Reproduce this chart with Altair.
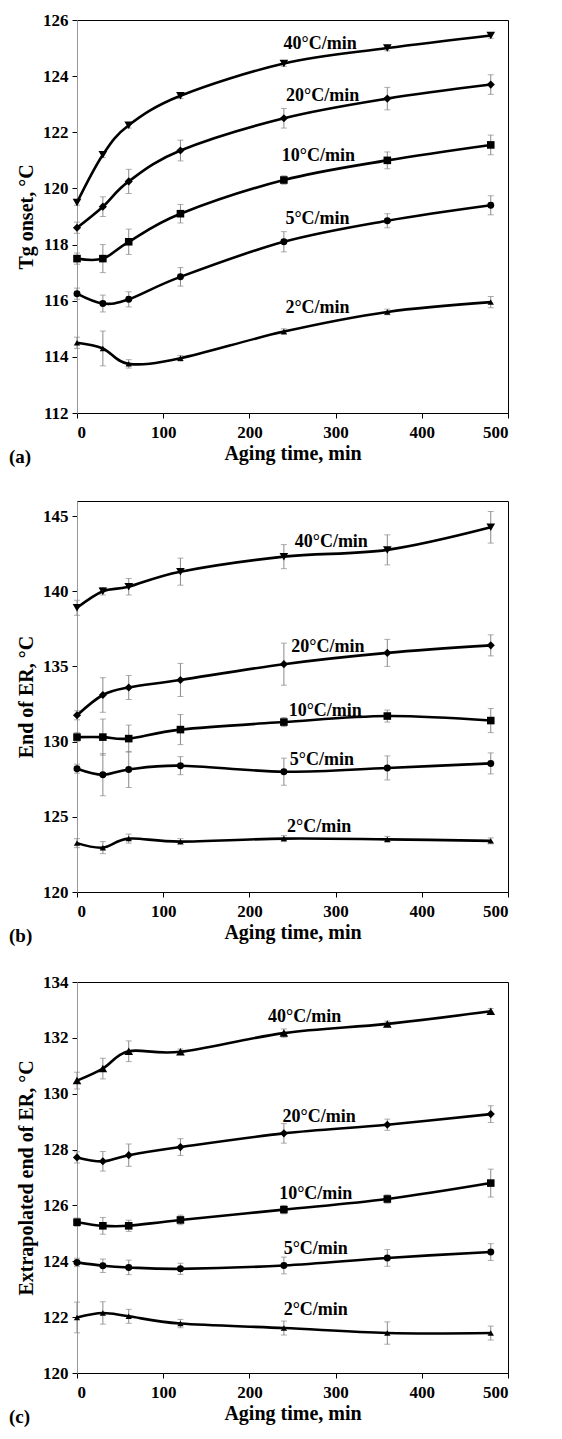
import altair as alt
import pandas as pd

TIME = [0, 30, 60, 120, 240, 360, 480]
RATES = ["40", "20", "10", "5", "2"]
RATE_LABELS = ["40°C/min", "20°C/min", "10°C/min", "5°C/min", "2°C/min"]

# ---- panel (a): Tg onset ----
A_VALUES = {
    "40": [119.5, 121.2, 122.25, 123.3, 124.45, 125.0, 125.45],
    "20": [118.6, 119.35, 120.25, 121.35, 122.5, 123.2, 123.7],
    "10": [117.5, 117.5, 118.1, 119.1, 120.3, 121.0, 121.55],
    "5": [116.25, 115.9, 116.05, 116.85, 118.1, 118.85, 119.4],
    "2": [114.5, 114.3, 113.75, 113.95, 114.9, 115.6, 115.95],
}
A_ERRORS = {
    "40": [0.1, 0.1, 0.1, 0.1, 0.1, 0.1, 0.1],
    "20": [0.2, 0.35, 0.43, 0.37, 0.35, 0.4, 0.35],
    "10": [0.2, 0.5, 0.45, 0.33, 0.15, 0.3, 0.35],
    "5": [0.2, 0.3, 0.27, 0.33, 0.36, 0.25, 0.34],
    "2": [0.2, 0.62, 0.15, 0.1, 0.1, 0.1, 0.2],
}
A_LABEL_T = [282, 285, 280, 279, 279]
A_LABEL_V = [125.15, 123.3, 121.15, 118.9, 115.75]

# ---- panel (b): End of ER ----
B_VALUES = {
    "40": [138.9, 140.0, 140.3, 141.3, 142.3, 142.75, 144.25],
    "20": [131.75, 133.1, 133.6, 134.1, 135.15, 135.9, 136.4],
    "10": [130.3, 130.3, 130.2, 130.8, 131.3, 131.7, 131.4],
    "5": [128.2, 127.8, 128.15, 128.4, 128.0, 128.25, 128.55],
    "2": [123.25, 122.95, 123.55, 123.35, 123.55, 123.5, 123.4],
}
B_ERRORS = {
    "40": [0.5, 0.25, 0.55, 0.9, 0.8, 1.0, 1.05],
    "20": [0.3, 1.15, 0.8, 1.1, 1.4, 0.9, 0.7],
    "10": [0.3, 1.2, 0.9, 1.0, 0.3, 0.4, 0.8],
    "5": [0.3, 1.4, 1.2, 0.6, 0.9, 0.8, 0.7],
    "2": [0.3, 0.4, 0.3, 0.2, 0.2, 0.2, 0.2],
}
B_LABEL_T = [295, 291, 288, 284, 281]
B_LABEL_V = [143.3, 136.3, 132.05, 128.75, 124.3]

# ---- panel (c): Extrapolated end of ER ----
C_VALUES = {
    "40": [130.47, 130.9, 131.52, 131.5, 132.17, 132.5, 132.95],
    "20": [127.72, 127.58, 127.8, 128.09, 128.58, 128.89, 129.27],
    "10": [125.4, 125.27, 125.27, 125.48, 125.85, 126.23, 126.8],
    "5": [123.96, 123.84, 123.78, 123.73, 123.85, 124.12, 124.33],
    "2": [121.99, 122.15, 122.03, 121.77, 121.61, 121.43, 121.43],
}
C_ERRORS = {
    "40": [0.3, 0.37, 0.37, 0.1, 0.15, 0.1, 0.1],
    "20": [0.2, 0.35, 0.4, 0.3, 0.35, 0.2, 0.3],
    "10": [0.15, 0.3, 0.2, 0.17, 0.15, 0.15, 0.5],
    "5": [0.15, 0.24, 0.26, 0.2, 0.3, 0.3, 0.3],
    "2": [0.55, 0.4, 0.25, 0.15, 0.25, 0.4, 0.25],
}
C_LABEL_T = [264, 281, 277, 277, 277]
C_LABEL_V = [132.75, 129.17, 126.41, 124.45, 122.27]

SERIF = "Liberation Serif"


def frame(values, errors):
    rows = []
    for r in RATES:
        for t, v, e in zip(TIME, values[r], errors[r]):
            rows.append({"t": t, "v": v, "lo": v - e, "hi": v + e, "rate": r})
    return pd.DataFrame(rows)


def label_frame(ts, vs):
    return pd.DataFrame({"t": ts, "v": vs, "label": RATE_LABELS})


def panel(values, errors, lab_t, lab_v, ydom, yticks, ytitle, letter, height, shapes):
    df = frame(values, errors)
    xs = alt.Scale(domain=[0, 500], nice=False)
    ys = alt.Scale(domain=ydom, nice=False, zero=False)
    xax = alt.Axis(values=[0, 100, 200, 300, 400, 500], title="Aging time, min")
    yax = alt.Axis(values=yticks, title=ytitle)
    x = alt.X("t:Q", scale=xs, axis=xax)
    base = alt.Chart(df)
    err = base.mark_errorbar(ticks={"size": 6}, color="#8a8a8a", thickness=1).encode(
        x=x,
        y=alt.Y("lo:Q", scale=ys, axis=yax),
        y2="hi:Q",
        detail="rate:N",
    )
    line = base.mark_line(color="black", strokeWidth=2.6, interpolate="cardinal").encode(
        x=x, y=alt.Y("v:Q", scale=ys, axis=yax), detail="rate:N"
    )
    pts = base.mark_point(filled=True, color="black", opacity=1).encode(
        x=x,
        y=alt.Y("v:Q", scale=ys, axis=yax),
        shape=alt.Shape("rate:N", scale=alt.Scale(domain=RATES, range=shapes), legend=None),
        size=alt.Size("rate:N", scale=alt.Scale(domain=RATES, range=[75, 40, 80, 70, 65]), legend=None),
    )
    txt = alt.Chart(label_frame(lab_t, lab_v)).mark_text(
        font=SERIF, fontWeight="bold", fontSize=18, color="black", align="center", baseline="middle"
    ).encode(x=alt.X("t:Q", scale=xs, axis=xax), y=alt.Y("v:Q", scale=ys, axis=yax), text="label:N")
    let = alt.Chart(pd.DataFrame({"k": [letter]})).mark_text(
        font=SERIF, fontWeight="bold", fontSize=19, color="black", align="left", baseline="middle"
    ).encode(x=alt.value(-68), y=alt.value(height + 44), text="k:N")
    return alt.layer(err, line, pts, txt, let).properties(width=431, height=height)


pa = panel(A_VALUES, A_ERRORS, A_LABEL_T, A_LABEL_V, [112, 126], list(range(112, 127, 2)),
           "Tg onset, °C", "(a)", 393,
           ["triangle-down", "diamond", "square", "circle", "triangle-up"])
pb = panel(B_VALUES, B_ERRORS, B_LABEL_T, B_LABEL_V, [120, 146], list(range(120, 146, 5)),
           "End of ER, °C", "(b)", 391,
           ["triangle-down", "diamond", "square", "circle", "triangle-up"])
pc = panel(C_VALUES, C_ERRORS, C_LABEL_T, C_LABEL_V, [120, 134], list(range(120, 135, 2)),
           "Extrapolated end of ER, °C", "(c)", 391,
           ["triangle-up", "diamond", "square", "circle", "triangle-up"])

top = alt.vconcat(pa, pb, spacing=32).resolve_scale(shape="independent", size="independent")
chart = alt.vconcat(top, pc, spacing=25).resolve_scale(
    shape="independent", size="independent"
).properties(
    padding={"left": 0, "top": 2, "right": 5, "bottom": 5}
).configure_axis(
    labelFont=SERIF, labelFontWeight="bold", labelFontSize=17, labelColor="black",
    titleFont=SERIF, titleFontWeight="bold", titleFontSize=20, titleColor="black",
    grid=False, tickColor="black", domainColor="black", tickSize=5,
).configure_axisX(
    labelPadding=6, titlePadding=3, labelAngle=0,
).configure_axisY(
    labelPadding=4, titlePadding=6, domainColor="#999999",
).configure_view(stroke="black", strokeWidth=1)

chart.save("out.html", embed_options={"renderer": "svg", "actions": False})
